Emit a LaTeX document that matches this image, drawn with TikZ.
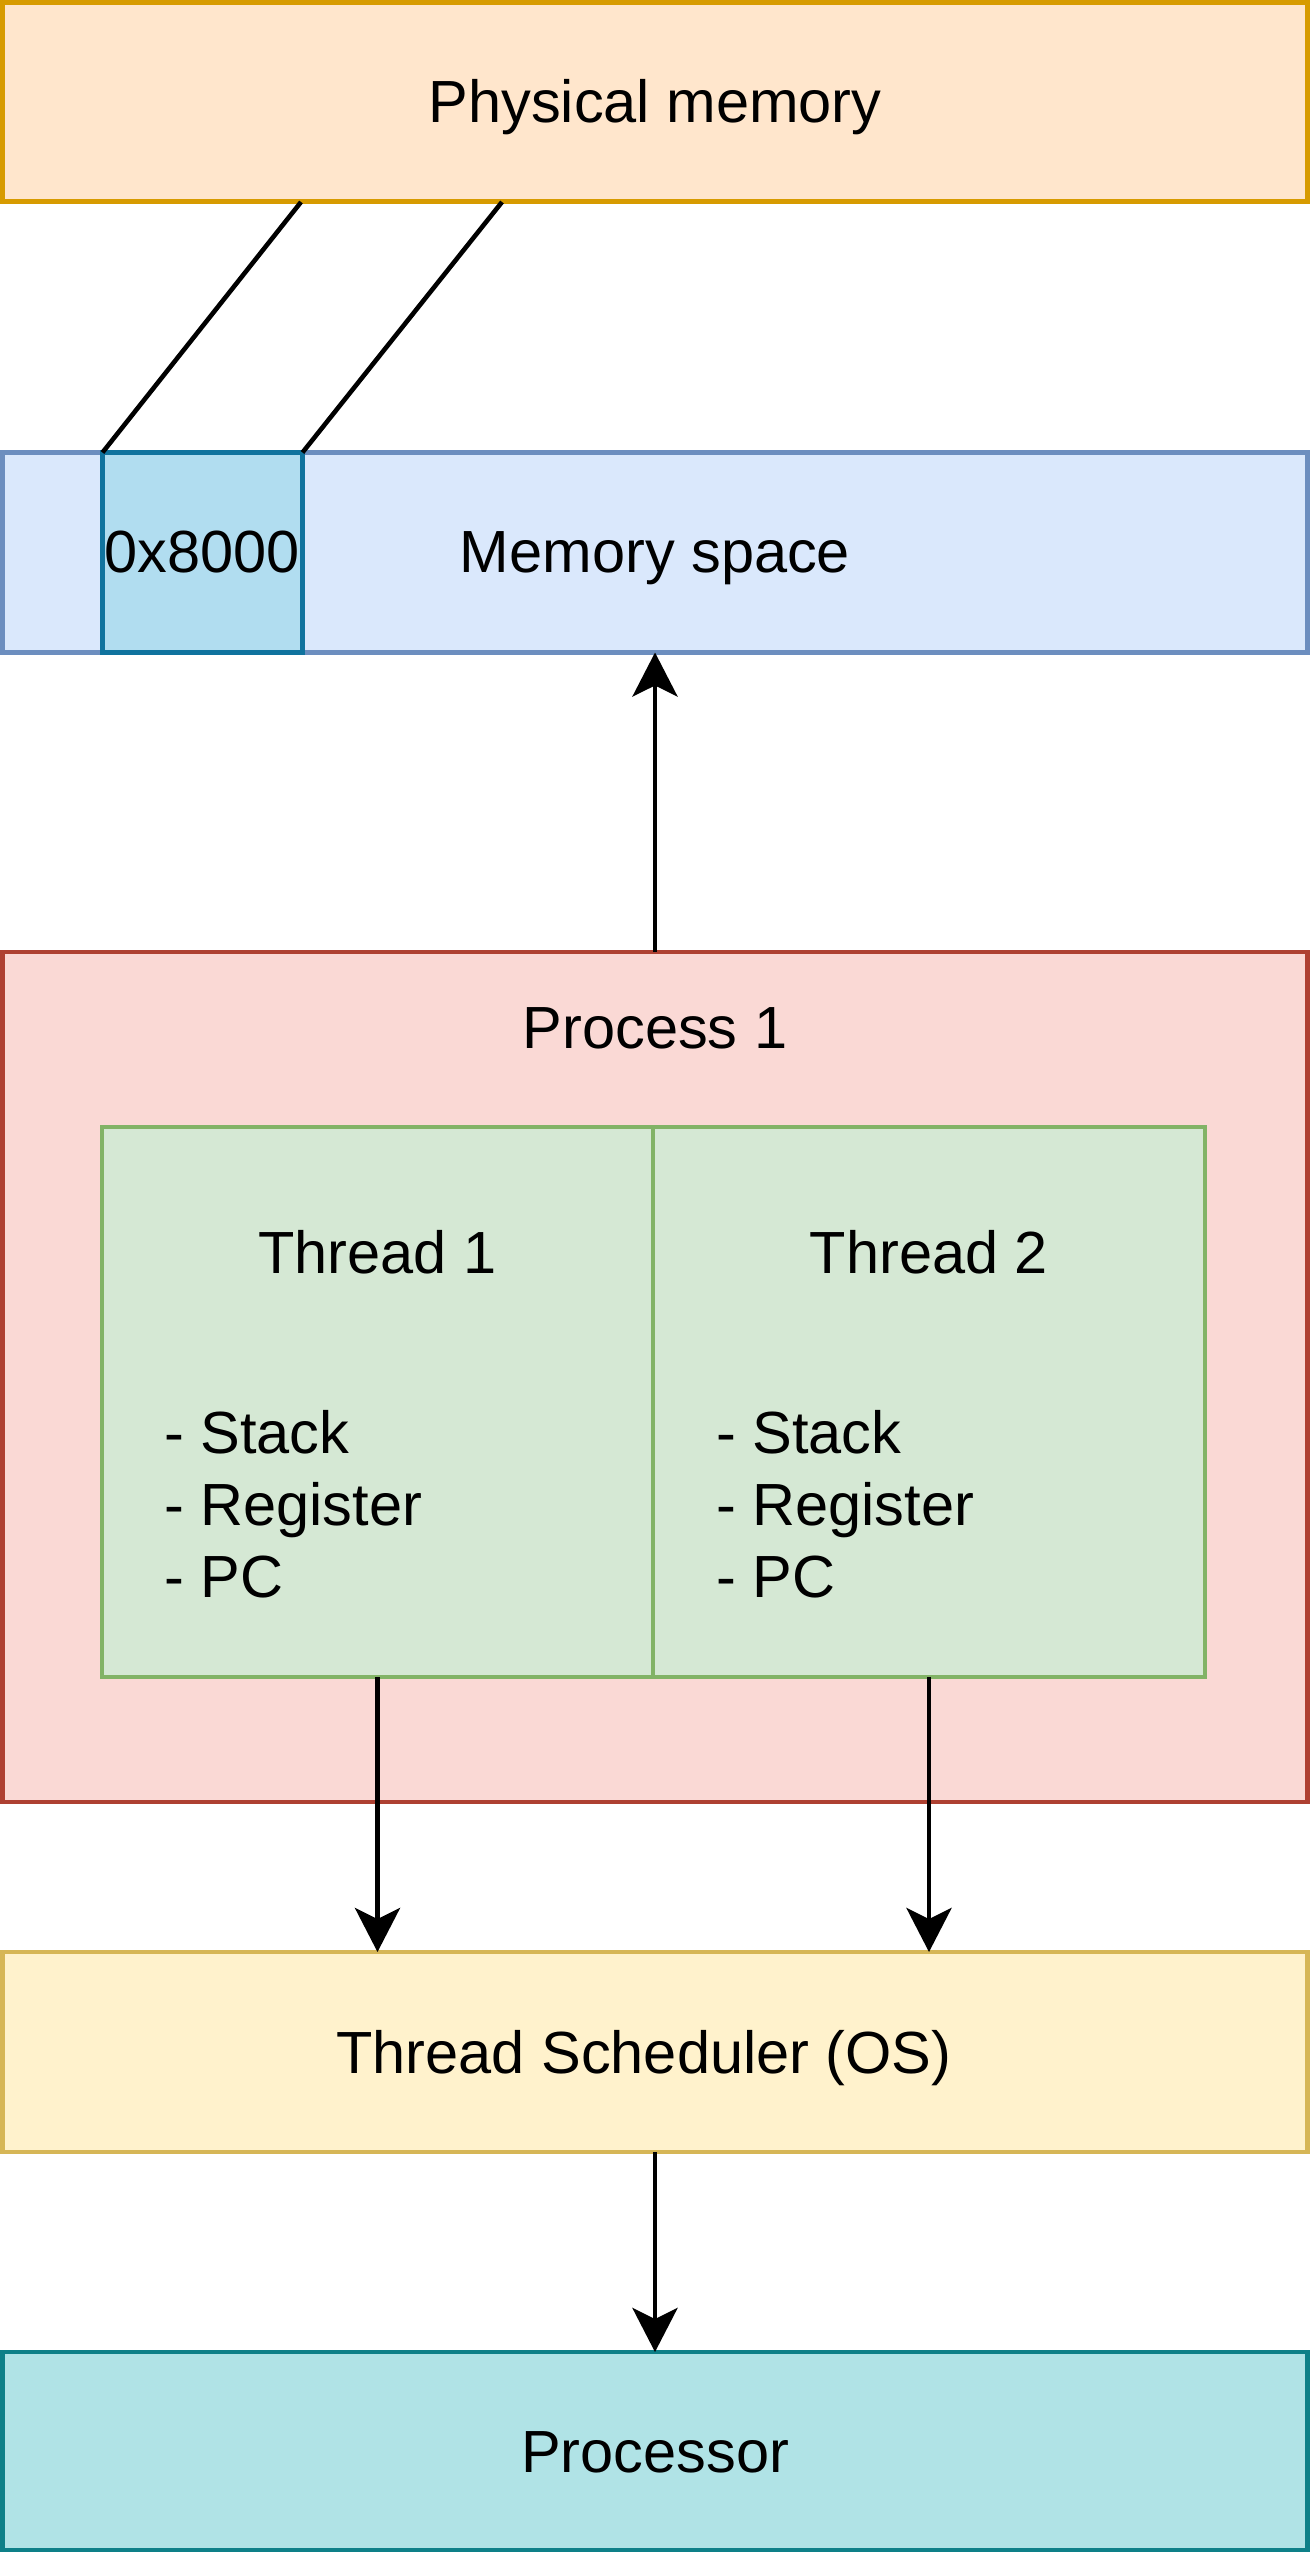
\documentclass[tikz,border=0pt]{standalone}
\usepackage{fontspec}
\setmainfont{Liberation Sans}
\usetikzlibrary{arrows.meta}
\definecolor{physfill}{HTML}{FFE6CC}\definecolor{physline}{HTML}{D79B00}
\definecolor{memfill}{HTML}{DAE8FC}\definecolor{memline}{HTML}{6C8EBF}
\definecolor{addrfill}{HTML}{B1DDF0}\definecolor{addrline}{HTML}{10739E}
\definecolor{procfill}{HTML}{FAD9D5}\definecolor{procline}{HTML}{AE4132}
\definecolor{thrfill}{HTML}{D5E8D4}\definecolor{thrline}{HTML}{82B366}
\definecolor{schfill}{HTML}{FFF2CC}\definecolor{schline}{HTML}{D6B656}
\definecolor{cpufill}{HTML}{B0E3E6}\definecolor{cpuline}{HTML}{0E8088}
\tikzset{
  box/.style={rectangle, line width=4.9pt, inner sep=0pt, outer sep=0pt},
  lbl/.style={anchor=base, inner sep=0pt, font=\fontsize{59.5pt}{72pt}\selectfont},
  lblw/.style={anchor=base west, inner sep=0pt, font=\fontsize{59.5pt}{72pt}\selectfont},
  arr/.style={line width=4.9pt, -{Stealth[length=44pt,width=45pt,inset=11pt]}},
  link/.style={line width=4.6pt}
}
\begin{document}
\begin{tikzpicture}[x=1pt,y=-1pt]
\useasboundingbox (0,0) rectangle (1310,2555);
% boxes
\node[box, draw=physline, fill=physfill, minimum width=1305pt, minimum height=199pt] (phys) at (655,102) {};
\node[box, draw=memline, fill=memfill, minimum width=1305pt, minimum height=200pt] (mem) at (655,552.5) {};
\node[box, draw=addrline, fill=addrfill, minimum width=200pt, minimum height=200pt] (addr) at (202.5,552.5) {};
\node[box, draw=procline, fill=procfill, minimum width=1305pt, minimum height=850pt] (proc) at (655,1377) {};
\node[box, draw=thrline, fill=thrfill, minimum width=551pt, minimum height=550pt] (t1) at (377.5,1402) {};
\node[box, draw=thrline, fill=thrfill, minimum width=552pt, minimum height=550pt] (t2) at (929,1402) {};
\node[box, draw=schline, fill=schfill, minimum width=1305pt, minimum height=200pt] (sched) at (655,2052) {};
\node[box, draw=cpuline, fill=cpufill, minimum width=1305pt, minimum height=198pt] (cpu) at (655,2451) {};
% labels
\node[lbl] (physT) at (655,123) {Physical memory};
\node[lbl] (addrT) at (202.5,572) {0x8000};
\node[lbl] (memT) at (655,572) {Memory space};
\node[lbl] (procT) at (655,1048) {Process 1};
\node[lbl] (t1T) at (377.5,1273) {Thread 1};
\node[lbl] (t2T) at (929,1273) {Thread 2};
\node[lblw] (t1a) at (164,1453) {- Stack};
\node[lblw] (t1b) at (164,1525) {- Register};
\node[lblw] (t1c) at (164,1597) {- PC};
\node[lblw] (t2a) at (716,1453) {- Stack};
\node[lblw] (t2b) at (716,1525) {- Register};
\node[lblw] (t2c) at (716,1597) {- PC};
\node[lbl] (schedT) at (644,2073) {Thread Scheduler (OS)};
\node[lbl] (cpuT) at (655,2472) {Processor};
% mapping lines
\coordinate (pa) at (301,202);
\coordinate (pb) at (502,202);
\draw[link] (addr.north west) -- (pa);
\draw[link] (addr.north east) -- (pb);
% arrows
\draw[arr] (proc.north) -- (mem.south);
\draw[arr] (t1.south) -- (t1.south |- sched.north);
\draw[arr] (t2.south) -- (t2.south |- sched.north);
\draw[arr] (sched.south) -- (cpu.north);
\end{tikzpicture}
\end{document}
